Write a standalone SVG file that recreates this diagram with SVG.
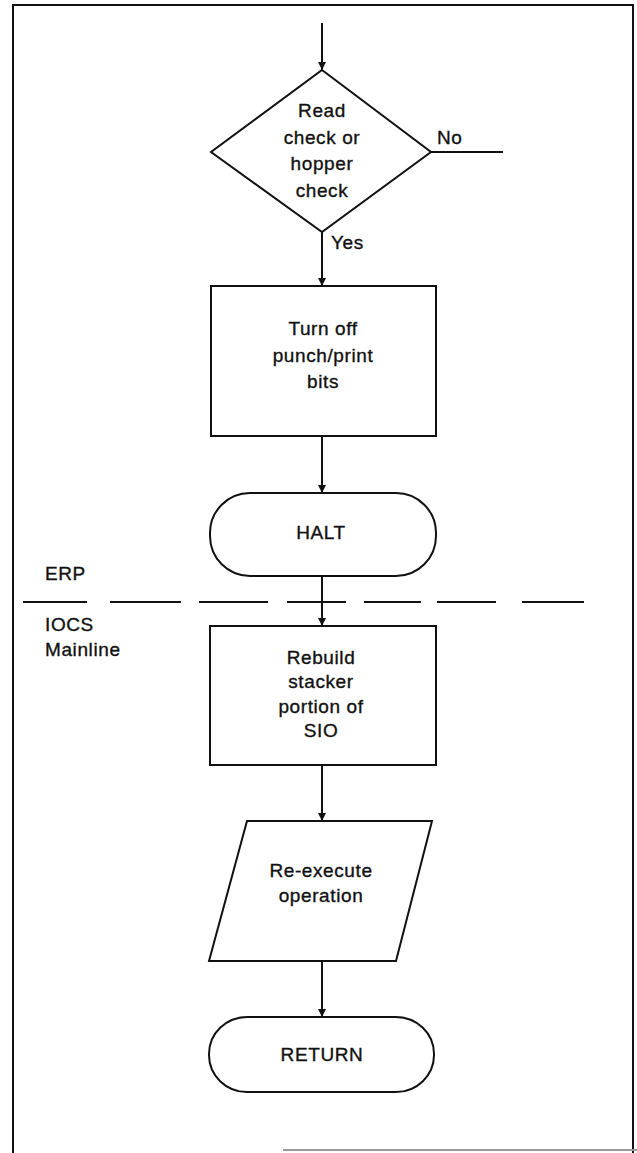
<svg xmlns="http://www.w3.org/2000/svg" width="637" height="1153" viewBox="0 0 637 1153">
  <style>
    .shape { fill: none; stroke: #111; stroke-width: 2; }
    .line { fill: none; stroke: #111; stroke-width: 2; }
    .frame { fill: none; stroke: #111; stroke-width: 2; }
    .dash { fill: none; stroke: #111; stroke-width: 2; }
    text { font-family: "Liberation Sans", Arial, sans-serif; font-size: 19px; fill: #111; stroke: #111; stroke-width: 0.35; letter-spacing: 0.6px; }
    .c { text-anchor: middle; }
  </style>
  <defs>
    <marker id="arrow" viewBox="0 0 8 10" refX="8" refY="5" markerWidth="8" markerHeight="10" markerUnits="userSpaceOnUse" orient="auto">
      <path d="M0,1 L8,5 L0,9 Z" fill="#111"/>
    </marker>
  </defs>
  <rect width="637" height="1153" fill="#fff"/>

  <!-- page frame -->
  <g id="frame">
    <path class="frame" d="M13,1153 V5 H633 V1153"/>
    <path d="M283,1150 H637" stroke="#999" stroke-width="2"/>
  </g>

  <!-- region divider between ERP and IOCS mainline -->
  <g id="divider">
    <path class="dash" d="M23,602 H87 M110,602 H181 M199,602 H268 M287,602 H346 M364,602 H421 M437,602 H496 M522,602 H584"/>
    <text x="45" y="580">ERP</text>
    <text x="45" y="631">IOCS</text>
    <text x="45" y="656">Mainline</text>
  </g>

  <!-- connectors -->
  <g id="connectors">
    <path class="line" d="M322,23 V70" marker-end="url(#arrow)"/>
    <path class="line" d="M430,152 H503"/>
    <text x="437" y="144">No</text>
    <path class="line" d="M322,232 V286" marker-end="url(#arrow)"/>
    <text x="331" y="249">Yes</text>
    <path class="line" d="M322,436 V493" marker-end="url(#arrow)"/>
    <path class="line" d="M322,576 V626" marker-end="url(#arrow)"/>
    <path class="line" d="M322,765 V821" marker-end="url(#arrow)"/>
    <path class="line" d="M322,961 V1017" marker-end="url(#arrow)"/>
  </g>

  <g id="decision">
    <path class="shape" d="M322,70 L431,152 L322,232 L211,152 Z"/>
    <text class="c" x="322" y="117">Read</text>
    <text class="c" x="322" y="144">check or</text>
    <text class="c" x="322" y="170">hopper</text>
    <text class="c" x="322" y="197">check</text>
  </g>

  <g id="turn-off">
    <rect class="shape" x="211" y="286" width="225" height="150"/>
    <text class="c" x="323" y="335">Turn off</text>
    <text class="c" x="323" y="362">punch/print</text>
    <text class="c" x="323" y="388">bits</text>
  </g>

  <g id="halt">
    <rect class="shape" x="210" y="493" width="226" height="83" rx="40" ry="40"/>
    <text class="c" x="321" y="539">HALT</text>
  </g>

  <g id="rebuild">
    <rect class="shape" x="210" y="626" width="226" height="139"/>
    <text class="c" x="321" y="664">Rebuild</text>
    <text class="c" x="321" y="688">stacker</text>
    <text class="c" x="321" y="713">portion of</text>
    <text class="c" x="321" y="737">SIO</text>
  </g>

  <g id="re-execute">
    <path class="shape" d="M247,821 H432 L396,961 H209 Z"/>
    <text class="c" x="321" y="877">Re-execute</text>
    <text class="c" x="321" y="902">operation</text>
  </g>

  <g id="return">
    <rect class="shape" x="209" y="1017" width="225" height="75" rx="38" ry="37"/>
    <text class="c" x="322" y="1061">RETURN</text>
  </g>
</svg>
